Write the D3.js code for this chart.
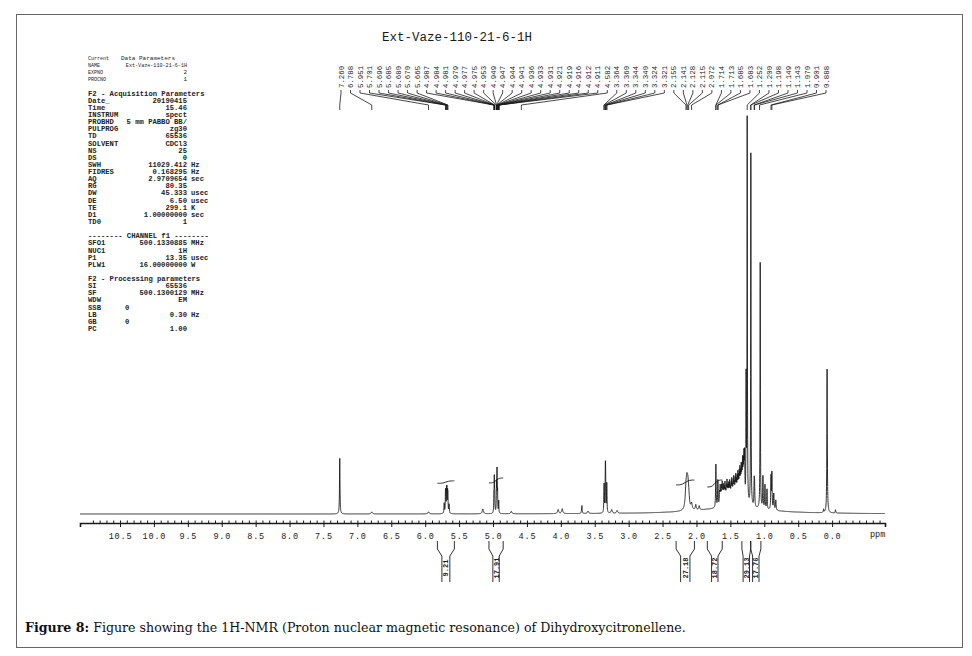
<!DOCTYPE html>
<html>
<head>
<meta charset="utf-8">
<script src="https://cdn.jsdelivr.net/npm/d3@7"></script>
<style>
  body { margin: 0; background: #fff; }
  svg  { display: block; }
</style>
</head>
<body>
<script>
/////////////////////////////////////////////////
// data
/////////////////////////////////////////////////
var titleText = "Ext-Vaze-110-21-6-1H";

// peak pick labels (left to right on the header)
var peakLabels = ["7.260","6.788","5.951","5.701","5.696","5.685","5.680","5.670","5.665",
  "4.987","4.984","4.981","4.979","4.977","4.975","4.953","4.949","4.947","4.944","4.941",
  "4.936","4.933","4.931","4.921","4.919","4.916","4.912","4.911","4.582","3.364","3.360",
  "3.344","3.340","3.324","3.321","2.155","2.141","2.128","2.115","2.072","1.714","1.713",
  "1.685","1.683","1.252","1.200","1.198","1.149","1.143","1.070","0.901","0.888"];

// spectrum lines: [ppm, height (% of tallest), half width (ppm)]
var solventPeaks = [[7.26, 13.9, 0.004], [0.074, 35.6, 0.004], [0.125, 0.8, 0.004], [-0.05, 0.8, 0.004]];
var olefinPeaks = [
  [6.788, 0.5, 0.01], [5.951, 0.5, 0.01], [5.72, 2.5, 0.004], [5.701, 4.5, 0.003], [5.696, 4.5, 0.003],
  [5.685, 4.8, 0.003], [5.680, 5, 0.003], [5.670, 4.5, 0.003], [5.665, 4, 0.003], [5.648, 2.2, 0.004],
  [5.15, 1.2, 0.01], [4.987, 4, 0.003], [4.981, 8, 0.003], [4.975, 4, 0.003],
  [4.949, 7, 0.003], [4.941, 10, 0.003], [4.933, 5, 0.003], [4.916, 3, 0.003], [4.73, 0.6, 0.01]
];
var carbinolPeaks = [
  [4.04, 1.0, 0.01], [3.98, 1.2, 0.01], [3.69, 2.0, 0.005], [3.60, 0.6, 0.01],
  [3.364, 5, 0.003], [3.360, 5, 0.003], [3.344, 9, 0.003], [3.340, 9, 0.003],
  [3.324, 4.5, 0.003], [3.321, 4.5, 0.003], [3.25, 0.9, 0.01], [3.17, 0.7, 0.01]
];
var aliphaticPeaks = [
  [1.45, 1.6, 0.6],
  [2.155, 4.5, 0.012], [2.141, 5, 0.012], [2.128, 4.5, 0.012], [2.115, 3, 0.012], [2.072, 1.5, 0.01],
  [2.01, 1.3, 0.008], [1.96, 1.0, 0.008],
  [1.714, 7, 0.004], [1.713, 4, 0.004], [1.685, 4, 0.004], [1.683, 3, 0.004],
  [1.66, 3.0, 0.0045], [1.65, 4.4, 0.0045], [1.64, 2.6, 0.0045], [1.63, 3.9, 0.0045], [1.62, 4.8, 0.0045],
  [1.61, 2.9, 0.0045], [1.60, 4.1, 0.0045], [1.59, 3.2, 0.0045], [1.58, 4.7, 0.0045], [1.57, 2.7, 0.0045],
  [1.56, 3.7, 0.0045], [1.55, 5.0, 0.0045], [1.54, 3.3, 0.0045], [1.53, 4.3, 0.0045], [1.52, 3.4, 0.0045],
  [1.51, 4.9, 0.0045], [1.50, 3.0, 0.0045], [1.49, 4.0, 0.0045], [1.48, 5.2, 0.0045], [1.47, 3.4, 0.0045],
  [1.46, 4.5, 0.0045], [1.45, 5.5, 0.0045], [1.44, 3.8, 0.0045], [1.43, 4.8, 0.0045], [1.42, 5.8, 0.0045],
  [1.41, 4.3, 0.0045], [1.40, 5.1, 0.0045], [1.39, 6.2, 0.0045], [1.38, 5.0, 0.0045], [1.37, 6.0, 0.0045],
  [1.36, 7.0, 0.0045], [1.35, 5.7, 0.0045], [1.34, 7.5, 0.0045], [1.33, 6.7, 0.0045], [1.32, 8.7, 0.0045],
  [1.31, 7.9, 0.0045], [1.30, 10.0, 0.0045], [1.29, 11.2, 0.0045],
  [1.268, 30, 0.003], [1.252, 97, 0.003], [1.198, 89, 0.003], [1.149, 6, 0.004], [1.143, 5, 0.004],
  [1.06, 62, 0.003], [1.02, 8, 0.004], [0.99, 6, 0.004], [0.96, 5, 0.004],
  [0.901, 8, 0.004], [0.888, 9, 0.004], [0.86, 4, 0.005], [0.83, 2.5, 0.005]
];

// integrals: ppm ranges, printed values, curve levels on the spectrum
var integralRanges = [[5.82, 5.57], [5.06, 4.85], [2.30, 2.03], [1.84, 1.62], [1.33, 1.20], [1.20, 1.05]];
var integralValues = ["9.21", "17.91", "27.18", "18.72", "29.13", "17.76"];
var integralLevels = [[7.6, 8.2], [7.7, 8.9], [7.2, 8.4], [6.7, 8.4], null, null];

// axis
var majorTicks = [10.5, 10.0, 9.5, 9.0, 8.5, 8.0, 7.5, 7.0, 6.5, 6.0, 5.5, 5.0, 4.5, 4.0, 3.5, 3.0, 2.5, 2.0, 1.5, 1.0, 0.5, 0.0];
var minorTicks = d3.range(-7, 110).map(function(d) { return d / 10; });

// acquisition parameter block: [name, value, unit, align]
var paramRows = [
  ["Current", "Data Parameters", "", "l"],
  ["NAME", "Ext-Vaze-110-21-6-1H", ""],
  ["EXPNO", "2", ""],
  ["PROCNO", "1", ""],
  [],
  ["F2 - Acquisition Parameters"],
  ["Date_", "20190415", ""],
  ["Time", "15.46", ""],
  ["INSTRUM", "spect", ""],
  ["PROBHD", "5 mm PABBO BB/", ""],
  ["PULPROG", "zg30", ""],
  ["TD", "65536", ""],
  ["SOLVENT", "CDCl3", ""],
  ["NS", "25", ""],
  ["DS", "0", ""],
  ["SWH", "11029.412", "Hz"],
  ["FIDRES", "0.168295", "Hz"],
  ["AQ", "2.9709654", "sec"],
  ["RG", "80.35", ""],
  ["DW", "45.333", "usec"],
  ["DE", "6.50", "usec"],
  ["TE", "299.1", "K"],
  ["D1", "1.00000000", "sec"],
  ["TD0", "1", ""],
  [],
  ["-------- CHANNEL f1 --------"],
  ["SFO1", "500.1330885", "MHz"],
  ["NUC1", "1H", ""],
  ["P1", "13.35", "usec"],
  ["PLW1", "16.00000000", "W"],
  [],
  ["F2 - Processing parameters"],
  ["SI", "65536", ""],
  ["SF", "500.1300129", "MHz"],
  ["WDW", "EM", ""],
  ["SSB", "0", "", "l"],
  ["LB", "0.30", "Hz"],
  ["GB", "0", "", "l"],
  ["PC", "1.00", ""]
];

var captionBold = "Figure 8:";
var captionText = " Figure showing the 1H-NMR (Proton nuclear magnetic resonance) of Dihydroxycitronellene.";

/////////////////////////////////////////////////
// locals
/////////////////////////////////////////////////
var width  = 972,
    height = 656;
var mono = "'Liberation Mono', 'DejaVu Sans Mono', monospace";
var ink  = "#1a1a1a";

var x = d3.scaleLinear().domain([11.09, -0.78]).range([80, 885]);
var y = d3.scaleLinear().domain([0, 100]).range([514, 110]);
var axisY = 523;

var svg = d3.select("body").append("svg")
    .attr("width", width)
    .attr("height", height);

svg.append("rect")
    .attr("x", 16.5).attr("y", 14.5)
    .attr("width", 946).attr("height", 633)
    .attr("fill", "none")
    .attr("stroke", "#666");

/////////////////////////////////////////////////
// spectrum trace - sum of lorentzian lines
/////////////////////////////////////////////////
var allPeaks = solventPeaks.concat(olefinPeaks, carbinolPeaks, aliphaticPeaks);
function intensity(p) {
  var s = 0;
  allPeaks.forEach(function(pk) {
    var u = (p - pk[0]) / pk[2];
    s += pk[1] / (1 + u * u);
  });
  return s;
}
var samples = d3.range(11.09, -0.78, -0.0012).map(function(p) { return [p, intensity(p)]; });

svg.append("path")
    .datum(samples)
    .attr("fill", "none")
    .attr("stroke", ink)
    .attr("stroke-width", 0.9)
    .attr("d", d3.line()
      .x(function(d) { return x(d[0]); })
      .y(function(d) { return y(d[1]); }));

// integral curves drawn over the multiplets
integralRanges.forEach(function(r, i) {
  var lv = integralLevels[i];
  if (!lv) return;
  var a = r[0], b = r[1], m = (a + b) / 2, q = (a - b) * 0.15;
  var pts = [[a, lv[0]], [m + q, lv[0]], [m - q, lv[1]], [b, lv[1]]];
  svg.append("path")
    .datum(pts)
    .attr("fill", "none")
    .attr("stroke", ink)
    .attr("stroke-width", 0.9)
    .attr("d", d3.line().curve(d3.curveBasis)
      .x(function(d) { return x(d[0]); })
      .y(function(d) { return y(d[1]); }));
});

/////////////////////////////////////////////////
// ppm axis
/////////////////////////////////////////////////
var gMajor = svg.append("g")
    .attr("transform", "translate(0," + axisY + ")")
    .call(d3.axisBottom(x).tickValues(majorTicks).tickSize(4).tickPadding(6)
      .tickFormat(d3.format(".1f")));
gMajor.select(".domain").attr("stroke", ink).attr("stroke-width", 1.6);
gMajor.selectAll(".tick line").attr("stroke", ink);
gMajor.selectAll(".tick text")
    .attr("font-family", mono)
    .attr("font-size", 8.5)
    .attr("letter-spacing", 0.8)
    .attr("fill", ink);

var gMinor = svg.append("g")
    .attr("transform", "translate(0," + axisY + ")")
    .call(d3.axisTop(x).tickValues(minorTicks).tickSize(2.5).tickFormat(""));
gMinor.select(".domain").remove();
gMinor.selectAll(".tick line").attr("stroke", ink);

svg.append("text")
    .attr("x", 870).attr("y", 537)
    .attr("font-family", mono).attr("font-size", 8.5)
    .attr("fill", ink)
    .text("ppm");

/////////////////////////////////////////////////
// integral brackets under the axis
/////////////////////////////////////////////////
integralRanges.forEach(function(r, i) {
  var x1 = x(r[0]), x2 = x(r[1]);
  var ins = Math.min(4.5, (x2 - x1) / 2 - 3.2);
  var g = svg.append("g").attr("stroke", ink).attr("fill", "none").attr("stroke-width", 0.9);
  g.append("path").attr("d", "M" + x1 + ",541 L" + x1 + ",549 L" + (x1 + ins) + ",556 L" + (x1 + ins) + ",582");
  g.append("path").attr("d", "M" + x2 + ",541 L" + x2 + ",549 L" + (x2 - ins) + ",556 L" + (x2 - ins) + ",582");
  svg.append("text")
    .attr("transform", "translate(" + ((x1 + x2) / 2 + 2.5) + ",568) rotate(-90)")
    .attr("text-anchor", "middle")
    .attr("font-family", mono)
    .attr("font-size", 7)
    .attr("font-weight", "bold")
    .attr("fill", ink)
    .text(integralValues[i]);
});

/////////////////////////////////////////////////
// peak pick header
/////////////////////////////////////////////////
var lx = d3.scalePoint().domain(d3.range(peakLabels.length)).range([341, 826]);

svg.append("g").selectAll("text")
    .data(peakLabels)
  .enter().append("text")
    .attr("transform", function(d, i) { return "translate(" + (lx(i) + 2.6) + ",88) rotate(-90)"; })
    .attr("font-family", mono)
    .attr("font-size", 7.4)
    .attr("fill", ink)
    .text(function(d) { return d; });

svg.append("g").selectAll("path")
    .data(peakLabels)
  .enter().append("path")
    .attr("fill", "none")
    .attr("stroke", ink)
    .attr("stroke-width", 0.8)
    .attr("d", function(d, i) {
      var a = lx(i), b = x(+d);
      return "M" + a + ",90 L" + a + ",93 L" + b + ",105 L" + b + ",110";
    });

svg.append("text")
    .attr("x", 457).attr("y", 41)
    .attr("text-anchor", "middle")
    .attr("font-family", mono)
    .attr("font-size", 12.5)
    .attr("fill", ink)
    .text(titleText);

/////////////////////////////////////////////////
// parameter block
/////////////////////////////////////////////////
var pg = svg.append("g")
    .attr("font-family", mono)
    .attr("font-size", 7.2)
    .attr("font-weight", "bold")
    .attr("fill", "#222");

paramRows.forEach(function(row, i) {
  if (!row.length) return;
  var yy = 60 + i * 7.13;
  var small = i < 4;   // first four rows are printed smaller and lighter
  var nm = pg.append("text").attr("x", 88).attr("y", yy).text(row[0]);
  if (small) nm.attr("font-size", 5).attr("font-weight", "normal");
  if (row.length < 2) return;
  var v;
  if (row[3] === "l") {
    v = pg.append("text").attr("x", i === 0 ? 121 : 125).attr("y", yy).text(row[1]);
  } else {
    v = pg.append("text").attr("x", 187).attr("y", yy).attr("text-anchor", "end").text(row[1]);
  }
  if (small) v.attr("font-size", i === 1 ? 5.1 : 6).attr("font-weight", "normal");
  if (row[2]) pg.append("text").attr("x", 191).attr("y", yy).text(row[2]);
});

/////////////////////////////////////////////////
// caption
/////////////////////////////////////////////////
var cap = svg.append("text")
    .attr("x", 25).attr("y", 632)
    .attr("font-family", "'DejaVu Serif', 'Liberation Serif', serif")
    .attr("font-size", 12.6)
    .attr("fill", "#111");
cap.append("tspan").attr("font-weight", "bold").text(captionBold);
cap.append("tspan").text(captionText);
</script>
</body>
</html>
